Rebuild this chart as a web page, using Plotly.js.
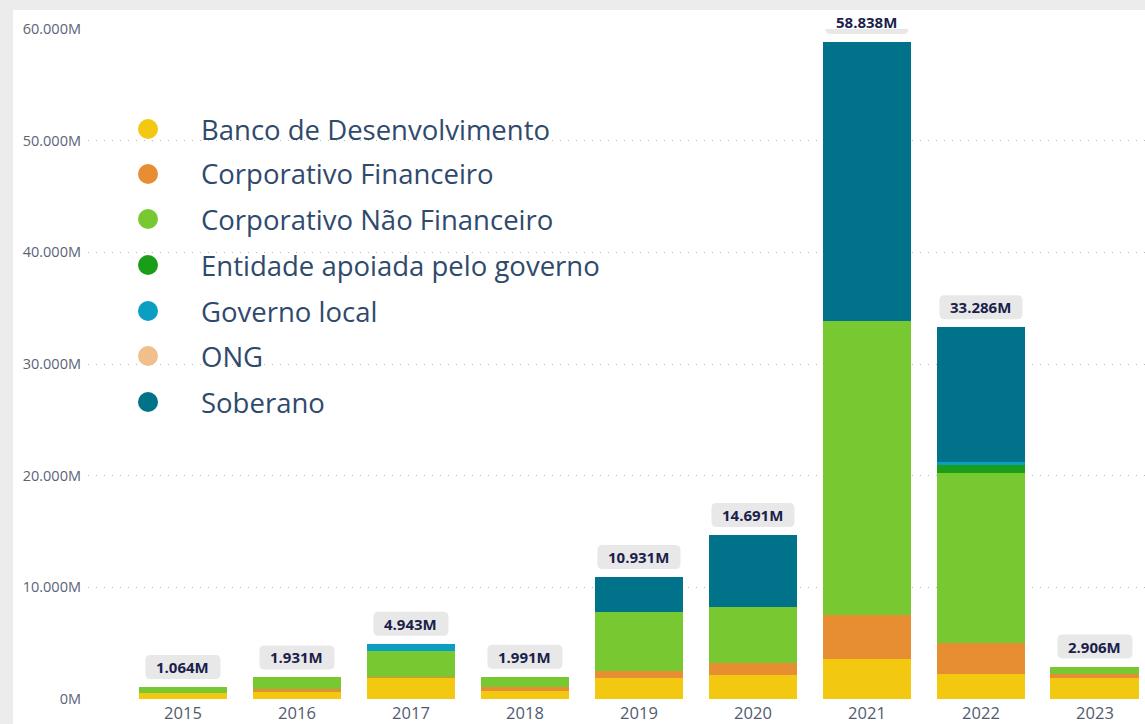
<!DOCTYPE html>
<html>
<head>
<meta charset="utf-8">
<script src="https://cdn.plot.ly/plotly-3.0.1.min.js"></script>
<style>
  html, body { margin: 0; padding: 0; width: 1145px; height: 724px; overflow: hidden; background: #ececec; }
  #card { position: absolute; left: 13px; top: 10px; right: 0; bottom: 0; background: #ffffff; }
  #chart { position: absolute; left: 0; top: 0; width: 1145px; height: 724px; }
</style>
</head>
<body>
<div id="card"></div>
<div id="chart"></div>
<script>
// ---- data (values in M) ----
const years = ['2015', '2016', '2017', '2018', '2019', '2020', '2021', '2022', '2023'];
const seriesNames = ['Banco de Desenvolvimento', 'Corporativo Financeiro', 'Corporativo Não Financeiro',
  'Entidade apoiada pelo governo', 'Governo local', 'ONG', 'Soberano'];
const bancoDesenvolvimento = [510, 650, 1850, 720, 1860, 2160, 3570, 2280, 1860];
const corporativoFinanceiro = [0, 270, 150, 350, 690, 1050, 3940, 2770, 420];
const corporativoNaoFinanceiro = [554, 1011, 2300, 921, 5230, 4990, 26340, 15160, 626];
const entidadeApoiada = [0, 0, 0, 0, 0, 0, 0, 740, 0];
const governoLocal = [0, 0, 643, 0, 0, 0, 0, 250, 0];
const ong = [0, 0, 0, 0, 0, 0, 0, 0, 0];
const soberano = [0, 0, 0, 0, 3151, 6491, 24988, 12086, 0];
const yTicks = [0, 10000, 20000, 30000, 40000, 50000, 60000];
const yTickText = ['0M', '10.000M', '20.000M', '30.000M', '40.000M', '50.000M', '60.000M'];

const seriesValues = [bancoDesenvolvimento, corporativoFinanceiro, corporativoNaoFinanceiro,
  entidadeApoiada, governoLocal, ong, soberano];
const colors = ['#F2C811', '#E68E31', '#78C831', '#1A9E1A', '#0A9EC2', '#F0BF8A', '#00738B'];

const traces = seriesNames.map((name, i) => ({
  type: 'bar',
  name: name,
  x: years,
  y: seriesValues[i],
  marker: { color: colors[i], line: { width: 0 } },
  showlegend: false,
  hoverinfo: 'x+y+name'
}));

function fmt(n) {
  return String(Math.round(n)).replace(/\B(?=(\d{3})+(?!\d))/g, '.') + 'M';
}
const totals = years.map((_, j) => seriesValues.reduce((s, arr) => s + arr[j], 0));

// plot area geometry (px)
const L = 88, T = 29, W = 1145 - 88, H = 670;
const px = x => (x - L) / W;
const py = y => (T + H - y) / H;

const annotations = [];
const shapes = [];

// total labels: rounded grey box + bold text, anchored at the bar top
function roundRect(x0, x1, y0, y1, r) {
  return 'M' + (x0 + r) + ',' + y0 +
    ' L' + (x1 - r) + ',' + y0 + ' Q' + x1 + ',' + y0 + ' ' + x1 + ',' + (y0 + r) +
    ' L' + x1 + ',' + (y1 - r) + ' Q' + x1 + ',' + y1 + ' ' + (x1 - r) + ',' + y1 +
    ' L' + (x0 + r) + ',' + y1 + ' Q' + x0 + ',' + y1 + ' ' + x0 + ',' + (y1 - r) +
    ' L' + x0 + ',' + (y0 + r) + ' Q' + x0 + ',' + y0 + ' ' + (x0 + r) + ',' + y0 + ' Z';
}
years.forEach((yr, j) => {
  const label = fmt(totals[j]);
  const w = 27 + 8 * label.length;
  shapes.push({
    type: 'path', xref: 'x', yref: 'y',
    xsizemode: 'pixel', ysizemode: 'pixel',
    xanchor: j, yanchor: totals[j],
    path: roundRect(-w / 2, w / 2, 8, 32, 5),
    fillcolor: '#e8e8e8', line: { width: 0 }, layer: 'above'
  });
  annotations.push({
    x: j, y: totals[j], xref: 'x', yref: 'y',
    text: '<b>' + label + '</b>',
    showarrow: false, yanchor: 'middle', yshift: 20,
    font: { family: 'Open Sans, sans-serif', size: 15, color: '#1b1f4b' }
  });
});

const legendY = [129, 174, 219, 265, 311, 356, 402];
seriesNames.forEach((name, i) => {
  shapes.push({
    type: 'circle', xref: 'paper', yref: 'paper',
    x0: px(138), x1: px(158), y0: py(legendY[i] + 10), y1: py(legendY[i] - 10),
    fillcolor: colors[i], line: { width: 0 }
  });
  annotations.push({
    x: px(199), y: py(legendY[i]), xref: 'paper', yref: 'paper',
    xanchor: 'left', yanchor: 'middle', showarrow: false,
    text: name,
    font: { family: 'Open Sans, sans-serif', size: 27.5, color: '#2f4a6c' }
  });
});

const layout = {
  width: 1145, height: 724,
  barmode: 'stack',
  bargap: 0.22,
  paper_bgcolor: 'rgba(0,0,0,0)',
  plot_bgcolor: 'rgba(0,0,0,0)',
  margin: { l: L, r: 0, t: T, b: 724 - T - H },
  showlegend: false,
  xaxis: {
    type: 'category',
    range: [-0.833, 8.439],
    showgrid: false, zeroline: false, showline: false,
    ticks: '',
    ticklabelstandoff: 2,
    tickfont: { family: 'Open Sans, sans-serif', size: 16.5, color: '#4f5b70' }
  },
  yaxis: {
    range: [0, 60000],
    tickmode: 'array',
    tickvals: yTicks,
    ticktext: yTickText,
    showgrid: true, gridcolor: '#b8b8b8', griddash: '1px,7px', gridwidth: 1,
    zeroline: false, showline: false, ticks: '',
    ticklabelstandoff: 6,
    tickfont: { family: 'Open Sans, sans-serif', size: 14.5, color: '#5a6478' }
  },
  annotations: annotations,
  shapes: shapes
};

Plotly.newPlot('chart', traces, layout, { displayModeBar: false, staticPlot: true });
</script>
</body>
</html>
